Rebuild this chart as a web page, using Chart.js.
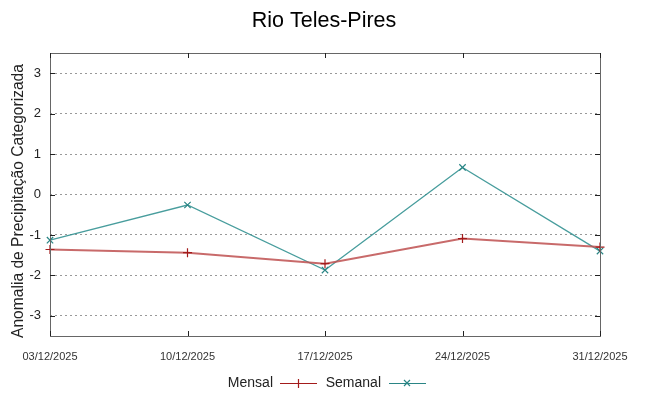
<!DOCTYPE html>
<html>
<head>
<meta charset="utf-8">
<script src="https://cdn.jsdelivr.net/npm/chart.js@4"></script>
<style>
  html, body { margin: 0; padding: 0; background: #fff; }
  #wrap { width: 648px; height: 396px; }
</style>
</head>
<body>
<div id="wrap"><canvas id="graph"></canvas></div>
<script>
const dates = ['03/12/2025', '10/12/2025', '17/12/2025', '24/12/2025', '31/12/2025'];
const mensal = [-1.36, -1.44, -1.71, -1.09, -1.30];
const semanal = [-1.13, -0.26, -1.87, 0.67, -1.40];
const yTicks = [-3, -2, -1, 0, 1, 2, 3];

const FONT = "'Liberation Sans', Arial, sans-serif";

// title, y title, box round the plot, short inward ticks, legend in gnuplot style
const framePlugin = {
    id: 'frame',
    afterDraw(chart) {
        const ctx = chart.ctx;
        const a = chart.chartArea;
        const y = chart.scales.y;
        const x = chart.scales.x;
        ctx.save();

        ctx.font = '21.5px ' + FONT;
        ctx.fillStyle = '#000';
        ctx.textAlign = 'center';
        ctx.textBaseline = 'alphabetic';
        ctx.fillText('Rio Teles-Pires', 324, 27);

        ctx.save();
        ctx.translate(19, 201);
        ctx.rotate(-Math.PI / 2);
        ctx.font = '15.6px ' + FONT;
        ctx.fillStyle = '#222';
        ctx.textBaseline = 'middle';
        ctx.fillText('Anomalia de Precipitação Categorizada', 0, 0);
        ctx.restore();

        ctx.strokeStyle = '#666';
        ctx.lineWidth = 1;
        ctx.strokeRect(a.left + 0.5, a.top + 0.5, a.right - a.left, a.bottom - a.top);
        ctx.strokeStyle = '#222';
        ctx.beginPath();
        y.ticks.forEach(t => {
            const py = Math.round(y.getPixelForValue(t.value)) + 0.5;
            ctx.moveTo(a.left, py); ctx.lineTo(a.left + 5, py);
            ctx.moveTo(a.right, py); ctx.lineTo(a.right - 5, py);
        });
        x.ticks.forEach((t, i) => {
            const px = Math.round(x.getPixelForValue(i)) + 0.5;
            ctx.moveTo(px, a.bottom); ctx.lineTo(px, a.bottom - 5);
            ctx.moveTo(px, a.top); ctx.lineTo(px, a.top + 5);
        });
        ctx.stroke();

        // legend
        const ly = 383;
        ctx.font = '14px ' + FONT;
        ctx.fillStyle = '#222';
        ctx.textBaseline = 'middle';
        ctx.textAlign = 'right';
        ctx.fillText('Mensal', 273, ly);
        ctx.fillText('Semanal', 381, ly);

        ctx.lineWidth = 1.2;
        ctx.strokeStyle = '#a31b1b';
        ctx.beginPath();
        ctx.moveTo(280, ly + 0.5); ctx.lineTo(317, ly + 0.5);
        ctx.moveTo(298.5, ly - 4); ctx.lineTo(298.5, ly + 5);
        ctx.stroke();

        ctx.strokeStyle = '#2a8585';
        ctx.beginPath();
        ctx.moveTo(389, ly + 0.5); ctx.lineTo(426, ly + 0.5);
        ctx.moveTo(404, ly - 3); ctx.lineTo(410, ly + 3);
        ctx.moveTo(410, ly - 3); ctx.lineTo(404, ly + 3);
        ctx.stroke();
        ctx.restore();
    }
};

const config = {
    type: 'line',
    data: {
        labels: dates,
        datasets: [
            {
                label: 'Mensal',
                data: mensal,
                borderColor: 'rgba(190, 80, 80, 0.85)',
                borderWidth: 2,
                pointStyle: 'cross',
                pointRadius: 4.5,
                pointBorderColor: '#a31b1b',
                pointBorderWidth: 1.2,
                tension: 0
            },
            {
                label: 'Semanal',
                data: semanal,
                borderColor: 'rgba(40, 140, 140, 0.85)',
                borderWidth: 1.3,
                pointStyle: 'crossRot',
                pointRadius: 4.5,
                pointBorderColor: '#2a8585',
                pointBorderWidth: 1.2,
                tension: 0
            }
        ]
    },
    options: {
        responsive: true,
        maintainAspectRatio: false,
        animation: false,
        layout: { padding: { left: 0, right: 48, top: 53, bottom: 0 } },
        scales: {
            x: {
                offset: false,
                grid: { display: false, drawTicks: false },
                border: { display: false },
                ticks: {
                    color: '#333',
                    font: { family: FONT, size: 11 },
                    padding: 14,
                    maxRotation: 0,
                    autoSkip: false
                },
                afterFit(scale) { scale.height = 60; }
            },
            y: {
                min: -3.5,
                max: 3.5,
                afterBuildTicks(scale) {
                    scale.ticks = yTicks.map(v => ({ value: v }));
                },
                grid: {
                    color: '#999',
                    lineWidth: 1,
                    drawTicks: false
                },
                border: { display: false, dash: [2, 3] },
                ticks: {
                    color: '#222',
                    font: { family: FONT, size: 13 },
                    padding: 9
                },
                afterFit(scale) { scale.width = 50; }
            }
        },
        plugins: {
            legend: { display: false },
            tooltip: { enabled: false },
            title: { display: false }
        }
    },
    plugins: [framePlugin]
};

const myChart = new Chart(document.getElementById('graph'), config);
</script>
</body>
</html>
